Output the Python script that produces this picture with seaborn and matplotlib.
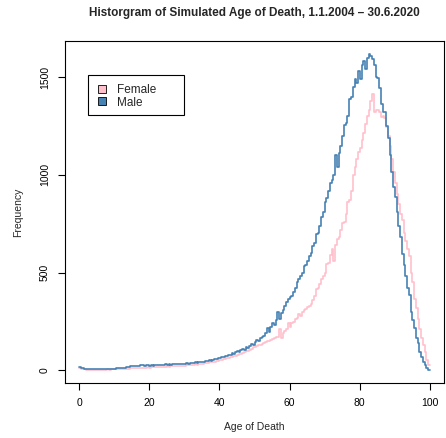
import numpy as np
import pandas as pd
import matplotlib
matplotlib.use("Agg")
import matplotlib.pyplot as plt
import seaborn as sns
from matplotlib.patches import Patch, Rectangle

# half-year bins from 0 to 100
BIN_WIDTH = 0.5
bin_start = np.arange(0, 100, BIN_WIDTH)

# counts per half-year bin
male_counts = [
    18, 12, 10, 9, 8, 7, 6, 6, 5, 5, 5, 6, 5, 6, 6, 7, 7, 6, 8, 9,
    9, 10, 10, 11, 12, 13, 14, 16, 18, 20, 22, 21, 23, 24, 22, 25, 26, 24, 27, 25,
    24, 26, 23, 27, 25, 28, 26, 29, 27, 30, 28, 31, 29, 30, 32, 30, 33, 31, 34, 32,
    33, 35, 32, 36, 38, 35, 40, 38, 42, 40, 45, 43, 48, 46, 52, 50, 55, 58, 56, 62,
    65, 70, 68, 75, 72, 80, 78, 88, 85, 95, 98, 92, 105, 110, 102, 118, 115, 125, 135, 128,
    145, 155, 150, 165, 170, 175, 190, 215, 195, 220,
    240, 230, 255, 300, 265, 295, 310, 330, 350, 365,
    375, 380, 400, 420, 450, 465, 480, 500, 535, 540,
    560, 585, 600, 635, 650, 695, 700, 740, 785, 810,
    860, 880, 915, 960, 975, 1000, 1100, 1040, 1110, 1150,
    1200, 1255, 1265, 1300, 1390, 1400, 1450, 1490, 1470, 1530,
    1490, 1560, 1585, 1540, 1600, 1620, 1610, 1595, 1560, 1500,
    1495, 1445, 1365, 1320, 1320, 1250, 1190, 1100, 1015, 940,
    885, 808, 740, 680, 595, 540, 480, 420, 385, 300,
    255, 215, 165, 140, 95, 70, 40, 25, 10, 2,
]

female_counts = [
    12, 8, 6, 5, 4, 4, 3, 3, 3, 3, 3, 3, 4, 3, 4, 4, 5, 4, 5, 5,
    5, 6, 6, 7, 7, 8, 8, 9, 9, 10, 10, 11, 11, 12, 12, 13, 12, 14, 13, 15,
    14, 15, 16, 15, 17, 16, 18, 17, 19, 18, 20, 19, 21, 20, 22, 21, 23, 22, 24, 23,
    24, 25, 26, 25, 28, 27, 30, 29, 32, 34, 33, 36, 35, 38, 40, 42, 41, 45, 48, 50,
    52, 55, 58, 60, 62, 65, 70, 68, 72, 75, 80, 85, 82, 90, 95, 100, 98, 105, 110, 118,
    120, 125, 130, 128, 135, 140, 145, 150, 148, 155,
    160, 165, 170, 168, 210, 165, 190, 200, 210, 240,
    220, 240, 245, 260, 270, 290, 280, 300, 310, 315,
    325, 330, 340, 360, 380, 415, 420, 440, 465, 480,
    500, 545, 550, 590, 620, 560, 640, 670, 680, 720,
    755, 760, 800, 860, 870, 920, 1000, 1040, 1080, 1115,
    1140, 1180, 1215, 1260, 1300, 1330, 1380, 1415, 1320, 1330,
    1330, 1320, 1295, 1300, 1290, 1245, 1200, 1150, 1080, 1015,
    960, 900, 850, 800, 770, 700, 660, 620, 585, 500,
    450, 365, 320, 265, 210, 165, 130, 95, 55, 25,
]

labels = ["Female", "Male"]
colors = {"Female": "#FFC0CB", "Male": "#4682B4"}

df = pd.concat([
    pd.DataFrame({"age": bin_start + BIN_WIDTH / 2, "n": female_counts, "sex": "Female"}),
    pd.DataFrame({"age": bin_start + BIN_WIDTH / 2, "n": male_counts, "sex": "Male"}),
], ignore_index=True)

sns.set_style("ticks")
plt.rcParams["font.family"] = ["Liberation Sans", "DejaVu Sans"]

fig = plt.figure(figsize=(4.46, 4.38), dpi=100)
ax = fig.add_axes([65 / 446, 55 / 438, 379 / 446, 342 / 438])

for s in labels:
    sns.histplot(data=df[df["sex"] == s], x="age", weights="n",
                 binwidth=BIN_WIDTH, binrange=(0, 100),
                 element="step", fill=False, color=colors[s], linewidth=1.2, ax=ax)

ax.set_xlim(-4, 104)
ax.set_ylim(-65, 1685)
ax.set_xticks([0, 20, 40, 60, 80, 100])
ax.set_yticks([0, 500, 1000, 1500])
for lab in ax.get_yticklabels():
    lab.set_rotation(90)
    lab.set_va("center")
ax.tick_params(direction="out", length=5, width=0.8, labelsize=7.5, pad=6, colors="black")
for sp in ax.spines.values():
    sp.set_visible(True)
    sp.set_color("black")
    sp.set_linewidth(0.8)

ax.set_xlabel("Age of Death", fontsize=7.5, labelpad=10)
ax.set_ylabel("Frequency", fontsize=7.5, labelpad=12)
ax.set_title("Historgram of Simulated Age of Death, 1.1.2004 \u2013 30.6.2020",
             fontsize=8.5, fontweight="bold", pad=18)

# legend: R-style wide box drawn by hand, entries from matplotlib
ax.add_patch(Rectangle((0.0607, 0.784), 0.2533, 0.1166, transform=ax.transAxes,
                       facecolor="white", edgecolor="black", linewidth=0.8, zorder=4))
handles = [Patch(facecolor=colors[s], edgecolor="black", linewidth=0.6, label=s) for s in labels]
leg = ax.legend(handles=handles, loc="upper left", bbox_to_anchor=(0.068, 0.895),
                fontsize=8.5, frameon=False, handlelength=0.65,
                handleheight=0.65, handletextpad=1.0, borderpad=0.6, labelspacing=0.05,
                borderaxespad=0)
leg.set_zorder(5)

fig.savefig("out.png", dpi=100)
